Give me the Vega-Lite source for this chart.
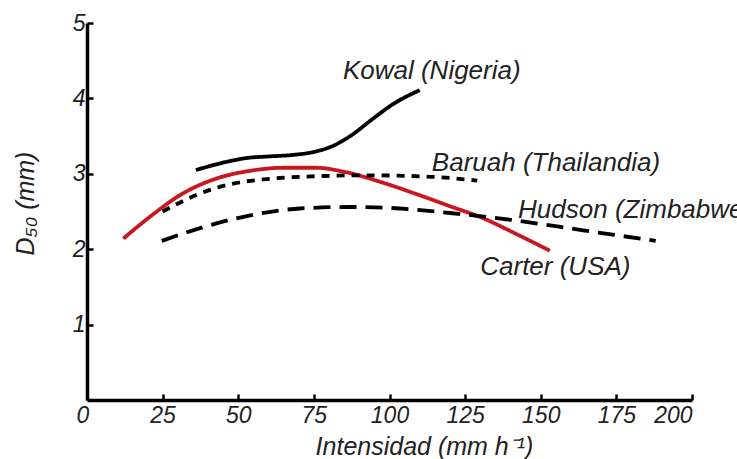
{
  "$schema": "https://vega.github.io/schema/vega-lite/v6.json",
  "width": 605,
  "height": 377,
  "autosize": {"type": "none"},
  "padding": {"left": 87, "top": 23, "right": 45, "bottom": 59},
  "background": "white",
  "config": {
    "view": {"stroke": null},
    "font": "Liberation Sans",
    "axis": {
      "grid": false,
      "domainColor": "black",
      "domainWidth": 3.5,
      "tickColor": "black",
      "tickWidth": 2.5,
      "tickSize": -6,
      "labelFont": "Liberation Sans",
      "labelFontStyle": "italic",
      "labelFontSize": 23,
      "labelColor": "#222",
      "titleFont": "Liberation Sans",
      "titleFontStyle": "italic",
      "titleFontWeight": "normal",
      "titleFontSize": 25,
      "titleColor": "#222"
    }
  },
  "datasets": {
    "curves": [
      {"serie": "Kowal", "x": 36, "y": 3.05},
      {"serie": "Kowal", "x": 46.3, "y": 3.16},
      {"serie": "Kowal", "x": 52.9, "y": 3.21},
      {"serie": "Kowal", "x": 60, "y": 3.23},
      {"serie": "Kowal", "x": 68, "y": 3.25},
      {"serie": "Kowal", "x": 75, "y": 3.29},
      {"serie": "Kowal", "x": 81.3, "y": 3.37},
      {"serie": "Kowal", "x": 87, "y": 3.5},
      {"serie": "Kowal", "x": 94.5, "y": 3.73},
      {"serie": "Kowal", "x": 101, "y": 3.92},
      {"serie": "Kowal", "x": 110, "y": 4.11},
      {"serie": "Carter", "x": 12, "y": 2.14},
      {"serie": "Carter", "x": 20.8, "y": 2.43},
      {"serie": "Carter", "x": 31.7, "y": 2.74},
      {"serie": "Carter", "x": 43, "y": 2.94},
      {"serie": "Carter", "x": 54, "y": 3.04},
      {"serie": "Carter", "x": 65, "y": 3.08},
      {"serie": "Carter", "x": 76, "y": 3.08},
      {"serie": "Carter", "x": 84.6, "y": 3.03},
      {"serie": "Carter", "x": 98, "y": 2.88},
      {"serie": "Carter", "x": 109, "y": 2.73},
      {"serie": "Carter", "x": 120, "y": 2.57},
      {"serie": "Carter", "x": 131, "y": 2.41},
      {"serie": "Carter", "x": 142, "y": 2.2},
      {"serie": "Carter", "x": 153, "y": 1.98},
      {"serie": "Baruah", "x": 25, "y": 2.5},
      {"serie": "Baruah", "x": 37.4, "y": 2.74},
      {"serie": "Baruah", "x": 48.3, "y": 2.87},
      {"serie": "Baruah", "x": 59.5, "y": 2.93},
      {"serie": "Baruah", "x": 70.4, "y": 2.96},
      {"serie": "Baruah", "x": 92.5, "y": 2.98},
      {"serie": "Baruah", "x": 114, "y": 2.96},
      {"serie": "Baruah", "x": 129, "y": 2.91},
      {"serie": "Hudson", "x": 24.7, "y": 2.11},
      {"serie": "Hudson", "x": 37.4, "y": 2.28},
      {"serie": "Hudson", "x": 54, "y": 2.45},
      {"serie": "Hudson", "x": 70.4, "y": 2.54},
      {"serie": "Hudson", "x": 87, "y": 2.56},
      {"serie": "Hudson", "x": 103.5, "y": 2.54},
      {"serie": "Hudson", "x": 120, "y": 2.48},
      {"serie": "Hudson", "x": 140, "y": 2.39},
      {"serie": "Hudson", "x": 164, "y": 2.25},
      {"serie": "Hudson", "x": 188, "y": 2.11}
    ],
    "labels": [
      {"x": 84.6, "y": 4.37, "text": "Kowal (Nigeria)"},
      {"x": 114, "y": 3.14, "text": "Baruah (Thailandia)"},
      {"x": 142.5, "y": 2.52, "text": "Hudson (Zimbabwe)"},
      {"x": 130, "y": 1.76, "text": "Carter (USA)"}
    ]
  },
  "layer": [
    {
      "data": {"name": "curves"},
      "mark": {"type": "line", "strokeWidth": 3.8, "interpolate": "monotone"},
      "encoding": {
        "x": {
          "field": "x", "type": "quantitative",
          "scale": {"domain": [0, 200], "nice": false},
          "axis": {
            "values": [0, 25, 50, 75, 100, 125, 150, 175, 200],
            "format": "d",
            "title": "Intensidad (mm h⁻¹)",
            "labelPadding": 10,
            "labelOffset": {"condition": {"test": "datum.value == 0", "value": -11}, "value": 0},
            "titlePadding": 7,
            "titleX": 337
          }
        },
        "y": {
          "field": "y", "type": "quantitative",
          "scale": {"domain": [0, 5], "nice": false},
          "axis": {
            "values": [1, 2, 3, 4, 5],
            "format": "d",
            "title": "D₅₀ (mm)",
            "labelPadding": 8,
            "titlePadding": 34,
            "titleY": 180
          }
        },
        "detail": {"field": "serie"},
        "color": {
          "field": "serie", "type": "nominal",
          "scale": {"domain": ["Kowal", "Carter", "Baruah", "Hudson"], "range": ["#000000", "#c8171e", "#000000", "#000000"]},
          "legend": null
        },
        "strokeDash": {
          "field": "serie", "type": "nominal",
          "scale": {"domain": ["Kowal", "Carter", "Baruah", "Hudson"], "range": [[1, 0], [1, 0], [8, 7], [17, 9]]},
          "legend": null
        }
      }
    },
    {
      "data": {"name": "labels"},
      "mark": {"type": "text", "align": "left", "baseline": "middle", "font": "Liberation Sans", "fontStyle": "italic", "fontSize": 26, "color": "#222"},
      "encoding": {
        "x": {"field": "x", "type": "quantitative"},
        "y": {"field": "y", "type": "quantitative"},
        "text": {"field": "text"}
      }
    }
  ]
}
